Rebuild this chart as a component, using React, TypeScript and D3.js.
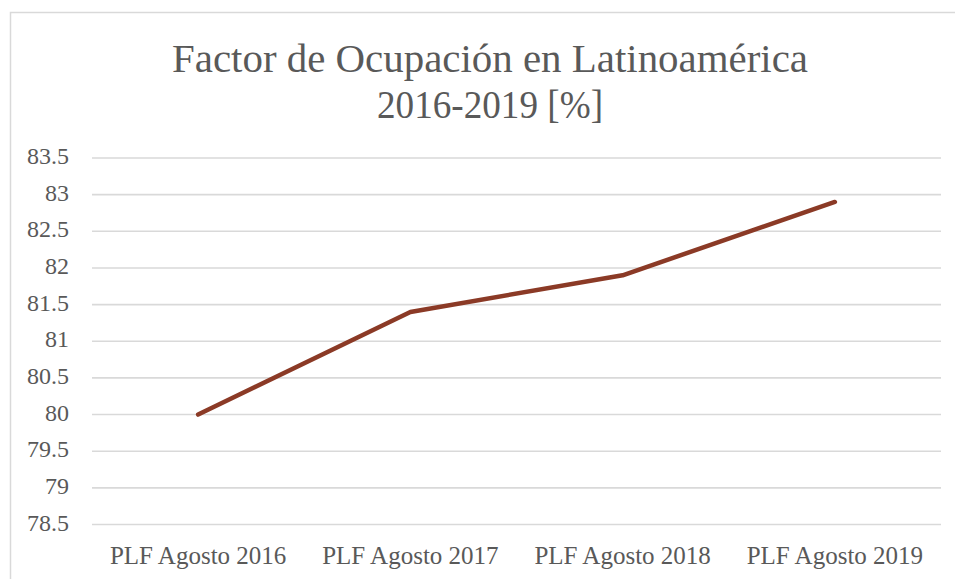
import React from "react";
import * as d3 from "d3";

const categories = ["PLF Agosto 2016", "PLF Agosto 2017", "PLF Agosto 2018", "PLF Agosto 2019"];
const values = [80, 81.4, 81.9, 82.9];
const yTicks = [78.5, 79, 79.5, 80, 80.5, 81, 81.5, 82, 82.5, 83, 83.5];
const titleLines = ["Factor de Ocupación en Latinoamérica", "2016-2019 [%]"];
const titleWidths = [636, 226];

const W = 955;
const H = 579;
const FONT = "'Liberation Serif', 'Times New Roman', serif";

export default function App() {
  const x = d3.scaleBand<string>().domain(categories).range([92, 941]);
  const y = d3.scaleLinear().domain([78.5, 83.5]).range([524.5, 158]);
  const line = d3
    .line<number>()
    .x((_, i) => (x(categories[i]) as number) + x.bandwidth() / 2)
    .y((d) => y(d));

  return (
    <svg
      width={W}
      height={H}
      style={{ position: "absolute", left: 0, top: 0, background: "#fff" }}
    >
      <rect x={10.5} y={12.5} width={W + 20} height={H + 20} fill="#fff" stroke="#d9d9d9" strokeWidth={1.5} />
      <g fontFamily={FONT} fill="#595959">
        {titleLines.map((t, i) => (
          <text
            key={t}
            x={490}
            y={72 + i * 46}
            textAnchor="middle"
            fontSize={40}
            textLength={titleWidths[i]}
            lengthAdjust="spacingAndGlyphs"
          >
            {t}
          </text>
        ))}
      </g>
      <g>
        {yTicks.map((t) => (
          <g key={t}>
            <line x1={92} x2={941} y1={y(t)} y2={y(t)} stroke="#d9d9d9" strokeWidth={1.6} />
            <text
              x={69}
              y={y(t) + 6}
              textAnchor="end"
              fontFamily={FONT}
              fontSize={24}
              fill="#595959"
            >
              {t}
            </text>
          </g>
        ))}
      </g>
      <g>
        {categories.map((c) => (
          <text
            key={c}
            x={(x(c) as number) + x.bandwidth() / 2}
            y={564}
            textAnchor="middle"
            fontFamily={FONT}
            fontSize={25}
            fill="#595959"
          >
            {c}
          </text>
        ))}
      </g>
      <path
        d={line(values) || ""}
        fill="none"
        stroke="#8B3A26"
        strokeWidth={4.5}
        strokeLinecap="round"
        strokeLinejoin="round"
      />
    </svg>
  );
}
